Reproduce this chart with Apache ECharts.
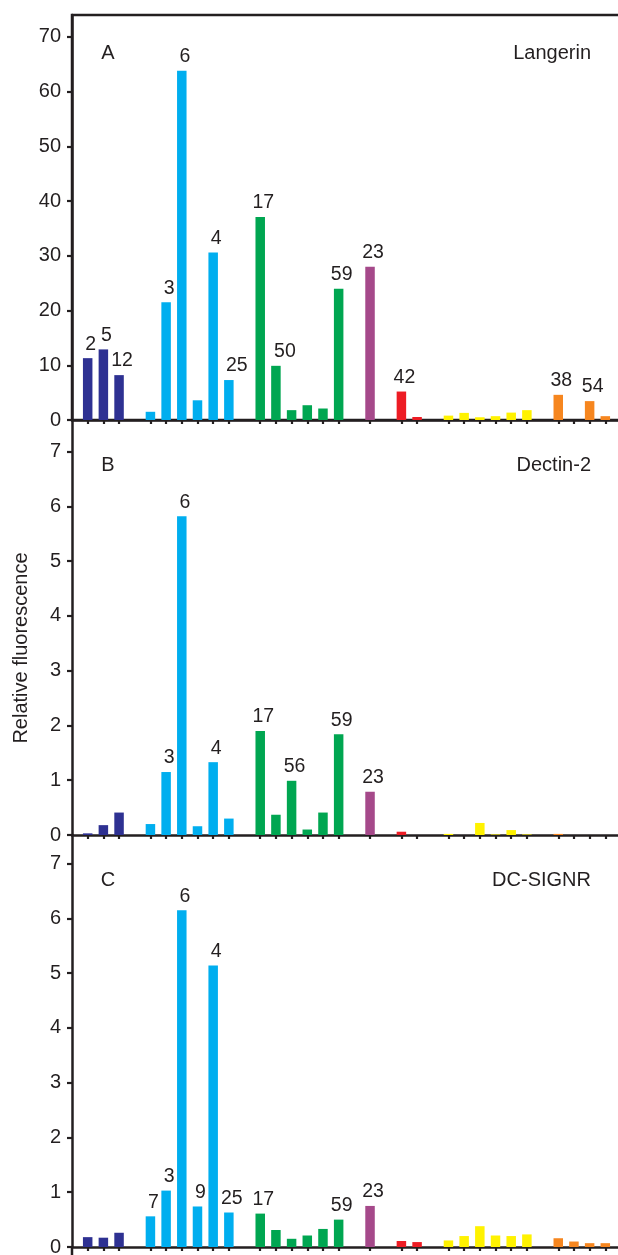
<!DOCTYPE html>
<html><head><meta charset="utf-8">
<script src="https://cdn.jsdelivr.net/npm/echarts@6/dist/echarts.min.js"></script>
<style>html,body{margin:0;padding:0;background:#fff}#c{width:618px;height:1255px}</style>
</head><body><div id="c"></div>
<script>
// ---- data ----
const groupColors = ['#2e3192', '#00aeef', '#00a651', '#a5498a', '#ed1c24', '#fff200', '#f6861f'];
const groupSizes = [3, 6, 6, 1, 2, 6, 4];

const panelNames = ['Langerin', 'Dectin-2', 'DC-SIGNR'];
const panelLetters = ['A', 'B', 'C'];

const valuesA = [11.3, 12.9, 8.2, null, 1.5, 21.5, 63.8, 3.6, 30.6, 7.3, null, 37.1, 9.9, 1.8, 2.7, 2.1, 24.0, null, 28.0, null, 5.2, 0.55, null, 0.8, 1.3, 0.5, 0.7, 1.35, 1.8, null, 4.6, 0, 3.45, 0.7];
const valuesB = [0.03, 0.18, 0.41, null, 0.2, 1.15, 5.82, 0.16, 1.33, 0.3, null, 1.9, 0.37, 0.99, 0.1, 0.41, 1.84, null, 0.79, null, 0.06, 0, null, 0.02, 0, 0.22, 0.01, 0.09, 0.01, null, 0.02, 0, 0, 0];
const valuesC = [0.18, 0.17, 0.26, null, 0.56, 1.03, 6.15, 0.74, 5.14, 0.63, null, 0.61, 0.31, 0.15, 0.21, 0.33, 0.5, null, 0.75, null, 0.11, 0.09, null, 0.12, 0.2, 0.38, 0.21, 0.2, 0.23, null, 0.16, 0.1, 0.07, 0.07];

const labelsA = ['2', '5', '12', '', '', '3', '6', '', '4', '25', '', '17', '50', '', '', '', '59', '', '23', '', '42', '', '', '', '', '', '', '', '', '', '38', '', '54', ''];
const labelsB = ['', '', '', '', '', '3', '6', '', '4', '', '', '17', '', '56', '', '', '59', '', '23', '', '', '', '', '', '', '', '', '', '', '', '', '', '', ''];
const labelsC = ['', '', '', '', '7', '3', '6', '9', '4', '25', '', '17', '', '', '', '', '59', '', '23', '', '', '', '', '', '', '', '', '', '', '', '', '', '', ''];

const yTicksA = [0, 10, 20, 30, 40, 50, 60, 70];
const yTicksBC = [0, 1, 2, 3, 4, 5, 6, 7];

// ---- styling / layout ----
const INK = '#231f20';
const FONT = '"Liberation Sans", Arial, Helvetica, sans-serif';
const grids = [
  { top: 15, height: 405, max: 74 },
  { top: 420, height: 415, max: 7.579 },
  { top: 835, height: 412, max: 7.524 }
];
const extraLabelShift = [{ 9: 5, 12: 6 }, {}, {}];

// slot structure: groups separated by one empty slot
const slotColor = [];
groupSizes.forEach((n, g) => {
  if (g > 0) slotColor.push(null);
  for (let i = 0; i < n; i++) slotColor.push(groupColors[g]);
});
const categories = ['pad0'].concat(slotColor.map((c, i) => 's' + i)).concat(['pad1']);
const isBarCat = (idx) => idx >= 1 && idx <= slotColor.length && slotColor[idx - 1] !== null;

const allValues = [valuesA, valuesB, valuesC];
const allLabels = [labelsA, labelsB, labelsC];
const allTicks = [yTicksA, yTicksBC, yTicksBC];

const option = {
  animation: false,
  grid: grids.map((g, i) => ({
    left: 72, width: 549, top: g.top, height: g.height,
    outerBoundsMode: 'none', containLabel: false,
    show: i === 0, borderColor: INK, borderWidth: 2.5, backgroundColor: 'transparent'
  })),
  xAxis: grids.map((g, i) => ({
    type: 'category', gridIndex: i, data: categories, boundaryGap: false,
    axisLine: { show: true, lineStyle: { color: INK, width: 2.5 } },
    axisTick: { show: true, inside: false, length: 4, interval: (idx) => isBarCat(idx), lineStyle: { color: INK, width: 2.2 } },
    axisLabel: { show: false },
    splitLine: { show: false }
  })),
  yAxis: grids.map((g, i) => ({
    type: 'value', gridIndex: i, min: 0, max: g.max,
    axisLine: { show: true, lineStyle: { color: INK, width: 2.5 } },
    axisTick: { show: true, length: 5, customValues: allTicks[i], lineStyle: { color: INK, width: 2.2 } },
    axisLabel: { show: true, customValues: allTicks[i], fontSize: 20, color: INK, fontFamily: FONT, margin: 11 },
    splitLine: { show: false }
  })),
  series: allValues.map((vals, p) => ({
    type: 'bar', xAxisIndex: p, yAxisIndex: p, barWidth: 9.5,
    data: [null].concat(vals.map((v, s) => {
      if (v === null) return null;
      const lab = allLabels[p][s];
      return {
        value: v,
        itemStyle: { color: slotColor[s] },
        label: {
          show: !!lab, position: 'top', distance: 4,
          offset: [3 + (extraLabelShift[p][s] || 0), 0],
          formatter: () => lab, fontSize: 19.5, color: INK, fontFamily: FONT
        }
      };
    })).concat([null])
  })),
  graphic: [
    ...grids.map((g, i) => ({
      type: 'text', x: 108, y: g.top + (i === 0 ? 38 : 45),
      style: { text: panelLetters[i], fontSize: 20, fontFamily: FONT, fill: INK, align: 'center', verticalAlign: 'middle' }
    })),
    ...grids.map((g, i) => ({
      type: 'text', x: 591, y: g.top + (i === 0 ? 38 : 45),
      style: { text: panelNames[i], fontSize: 20, fontFamily: FONT, fill: INK, align: 'right', verticalAlign: 'middle' }
    })),
    {
      type: 'text', x: 21, y: 648, rotation: Math.PI / 2,
      style: { text: 'Relative fluorescence', fontSize: 20, fontFamily: FONT, fill: INK, align: 'center', verticalAlign: 'middle' }
    },
    {
      type: 'line', shape: { x1: 72, y1: 1246, x2: 72, y2: 1255 },
      style: { stroke: INK, lineWidth: 2.5 }
    }
  ]
};

const chart = echarts.init(document.getElementById('c'), null, { renderer: 'canvas' });
chart.setOption(option);
</script>
</body></html>
